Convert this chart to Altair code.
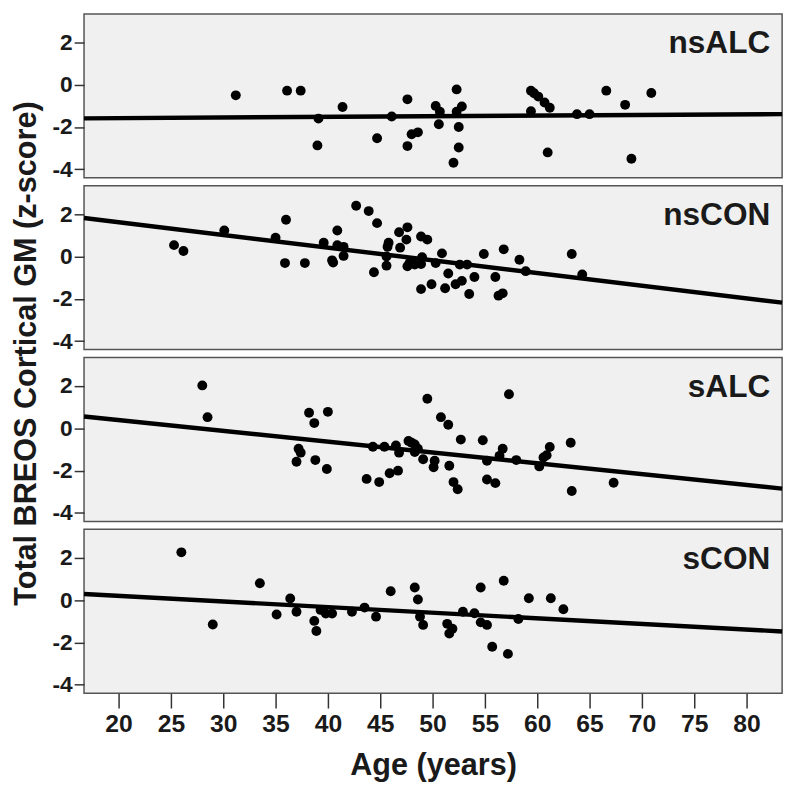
import altair as alt
import pandas as pd

# ---------------- data ----------------
panel_names = ["nsALC", "nsCON", "sALC", "sCON"]

nsalc_age = [31.2, 36.1, 37.4, 39.1, 39.0, 41.4, 44.7, 46.1, 47.6, 47.6, 48.0, 48.6,
             50.3, 50.7, 50.6, 52.3, 52.0, 52.3, 52.8, 52.5, 52.5, 59.4, 59.7, 60.1,
             60.7, 61.2, 59.4, 61.0, 63.8, 65.0, 66.6, 68.4, 69.0, 70.9]
nsalc_z = [-0.50, -0.28, -0.28, -1.60, -2.87, -1.05, -2.53, -1.50, -0.69, -2.90, -2.34, -2.25,
           -1.00, -1.28, -1.87, -0.22, -3.69, -1.28, -1.03, -2.00, -2.97, -0.28, -0.40, -0.56,
           -0.84, -1.09, -1.25, -3.20, -1.39, -1.39, -0.28, -0.95, -3.50, -0.39]

nscon_age = [25.3, 26.2, 30.1, 35.0, 36.0, 35.9, 37.8, 39.6, 40.9, 40.5, 40.4, 40.9,
             41.5, 41.5, 42.7, 43.9, 44.7, 44.4, 45.8, 45.7, 45.6, 45.6, 46.9, 46.8,
             47.6, 47.5, 47.6, 47.8, 48.3, 48.9, 49.5, 49.0, 48.9, 50.3, 50.9, 48.9,
             49.9, 51.5, 51.2, 52.2, 52.8, 53.5, 52.6, 53.3, 54.0, 54.9, 56.0, 56.3,
             56.7, 56.8, 58.3, 58.9, 63.3, 64.3]
nscon_z = [0.54, 0.26, 1.23, 0.89, 1.74, -0.31, -0.31, 0.65, 1.23, -0.28, -0.18, 0.54,
           0.46, 0.03, 2.40, 2.15, 1.58, -0.74, 0.65, 0.46, 0.00, -0.43, 0.42, 1.15,
           1.38, 0.80, -0.46, -0.31, -0.38, 0.95, 0.80, -0.03, -0.35, -0.31, 0.15, -1.54,
           -1.31, -0.80, -1.50, -1.31, -1.15, -1.77, -0.38, -0.38, -0.97, 0.12, -0.97, -1.85,
           -1.74, 0.34, -0.15, -0.69, 0.12, -0.85]

salc_age = [28.0, 28.5, 37.0, 37.2, 37.4, 38.2, 38.7, 38.8, 40.0, 39.9, 43.7, 44.3,
            44.9, 45.4, 45.9, 46.7, 46.5, 46.8, 47.7, 48.0, 48.3, 48.6, 48.3, 49.1,
            49.5, 50.2, 50.1, 50.8, 51.5, 51.6, 52.0, 52.4, 52.7, 54.8, 55.2, 55.2,
            56.0, 56.4, 56.7, 57.3, 58.0, 60.2, 60.6, 60.9, 61.2, 63.2, 63.3, 67.3]
salc_z = [2.03, 0.53, -1.58, -0.96, -1.15, 0.74, 0.25, -1.50, 0.78, -1.92, -2.39, -0.87,
          -2.54, -0.87, -2.12, -2.00, -0.81, -1.15, -0.60, -0.68, -0.76, -0.96, -1.12, -1.46,
          1.40, -1.53, -1.84, 0.53, 0.17, -1.77, -2.54, -2.88, -0.53, -0.56, -1.53, -2.42,
          -2.59, -1.30, -0.96, 1.61, -1.50, -1.80, -1.38, -1.27, -0.88, -0.68, -2.96, -2.57]

scon_age = [26.0, 29.0, 33.5, 35.1, 36.4, 37.0, 38.7, 38.9, 39.3, 39.8, 40.4, 42.3,
            43.5, 44.6, 46.0, 48.3, 48.6, 48.8, 49.1, 51.4, 51.6, 51.9, 52.9, 54.0,
            54.6, 54.6, 55.2, 55.7, 56.8, 57.2, 58.2, 59.2, 61.3, 62.5]
scon_z = [2.26, -1.15, 0.80, -0.68, 0.08, -0.55, -0.98, -1.46, -0.46, -0.63, -0.63, -0.55,
          -0.35, -0.78, 0.42, 0.60, 0.03, -0.78, -1.17, -1.12, -1.58, -1.35, -0.55, -0.62,
          0.60, -1.05, -1.17, -2.20, 0.92, -2.54, -0.89, 0.09, 0.09, -0.43]

# fitted lines: value at the left and right edge of the age axis
line_start = [-1.59, 1.82, 0.56, 0.29]
line_end = [-1.39, -2.18, -2.85, -1.48]

age_domain = [16.7, 83.4]
z_domain = [-4.4, 3.35]
x_ticks = [20, 25, 30, 35, 40, 45, 50, 55, 60, 65, 70, 75, 80]
y_ticks = [-4, -2, 0, 2]

x_title = "Age (years)"
y_title = "Total BREOS Cortical GM (z-score)"

# ---------------- chart ----------------
FONT = "Liberation Sans, Arial, Helvetica, sans-serif"
INK = "#1a1a1a"
W, H = 707, 166

series = [(nsalc_age, nsalc_z), (nscon_age, nscon_z), (salc_age, salc_z), (scon_age, scon_z)]

xscale = alt.Scale(domain=age_domain, nice=False, zero=False)
yscale = alt.Scale(domain=z_domain, nice=False, zero=False)

yaxis = alt.Axis(values=y_ticks, title=None, grid=False, domain=False,
                 tickSize=10, tickWidth=1.5, tickColor="#333333",
                 labelFontSize=23, labelFont=FONT, labelFontWeight="bold", labelColor=INK,
                 labelPadding=2,
                 labelExpr="(datum.value < 0 ? '-' : '') + abs(datum.value)")

xaxis = alt.Axis(values=x_ticks, title=x_title, grid=False, domain=False,
                 tickSize=15, tickWidth=1.5, tickColor="#333333",
                 labelFontSize=25, labelFont=FONT, labelFontWeight="bold", labelColor=INK,
                 labelPadding=4, labelFlush=False,
                 titleFontSize=31, titleFont=FONT, titleFontWeight="bold", titleColor=INK,
                 titlePadding=14)

panels = []
for i, name in enumerate(panel_names):
    ages, zs = series[i]
    last = i == len(panel_names) - 1
    pts = pd.DataFrame({"age": ages, "z": zs})
    ln = pd.DataFrame({"age": age_domain, "z": [line_start[i], line_end[i]]})
    lab = pd.DataFrame({"label": [name]})

    xenc = alt.X("age:Q", scale=xscale, axis=xaxis if last else None)
    yenc = alt.Y("z:Q", scale=yscale, axis=yaxis)

    points = alt.Chart(pts).mark_circle(size=100, color="black", opacity=1).encode(x=xenc, y=yenc)
    line = alt.Chart(ln).mark_line(color="black", strokeWidth=4.5).encode(x=xenc, y=yenc)
    label = alt.Chart(lab).mark_text(
        align="right", baseline="alphabetic", fontSize=32, font=FONT,
        fontWeight="bold", color=INK
    ).encode(text="label:N", x=alt.value(W - 12), y=alt.value(40))

    layers = [points, line, label]
    if i == 1:
        tt = pd.DataFrame({"t": [y_title]})
        ytext = alt.Chart(tt).mark_text(
            align="center", baseline="middle", angle=270, fontSize=31, font=FONT,
            fontWeight="bold", color=INK
        ).encode(text="t:N", x=alt.value(-58), y=alt.value(H + 4))
        layers.append(ytext)

    panels.append(alt.layer(*layers).properties(width=W, height=H))

chart = alt.vconcat(*panels, spacing=8, bounds="flush").properties(
    padding={"left": 2, "top": 0, "right": 0, "bottom": 0},
    background="white",
).configure_view(
    fill="#f0f0f0", stroke="#555555", strokeWidth=1.5
)

chart.save("out.html", embed_options={"renderer": "svg", "actions": False})
